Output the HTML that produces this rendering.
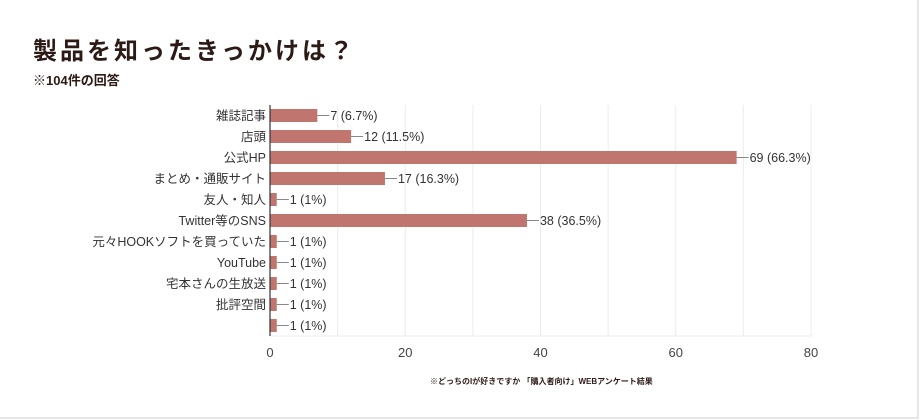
<!DOCTYPE html>
<html><head><meta charset="utf-8"><style>
html,body{margin:0;padding:0;background:#fff;}
#wrap{position:relative;width:920px;height:420px;overflow:hidden;font-family:"Liberation Sans","Noto Sans CJK JP",sans-serif;}
#frame{position:absolute;left:0;top:0;width:917px;height:417px;border-right:2px solid #e6e6e6;border-bottom:2px solid #e6e6e6;}
#title{position:absolute;left:33px;top:31px;font-size:24px;font-weight:bold;color:#2b1a16;letter-spacing:3px;margin:0;}
#sub{position:absolute;left:33px;top:70px;font-size:13px;font-weight:bold;color:#2b1a16;}
svg{position:absolute;left:0;top:0;}
</style></head><body>
<div id="wrap">
<div id="frame"></div>
<h1 id="title">製品を知ったきっかけは？</h1>
<div id="sub">※104件の回答</div>
<svg id="chart" width="920" height="420"></svg>
</div>
<script>
const categories=["雑誌記事","店頭","公式HP","まとめ・通販サイト","友人・知人","Twitter等のSNS","元々HOOKソフトを買っていた","YouTube","宅本さんの生放送","批評空間",""];
const values=[7,12,69,17,1,38,1,1,1,1,1];
const valueLabels=["7 (6.7%)","12 (11.5%)","69 (66.3%)","17 (16.3%)","1 (1%)","38 (36.5%)","1 (1%)","1 (1%)","1 (1%)","1 (1%)","1 (1%)"];
const ticks=[0,20,40,60,80];
const gridVals=[10,20,30,40,50,60,70,80];

const NS="http://www.w3.org/2000/svg";
const svg=document.getElementById('chart');
const x0=270,x1=811,xMax=80,plotTop=105,rowH=21,barH=13;
const plotBottom=plotTop+rowH*categories.length;
const xs=v=>x0+(x1-x0)*v/xMax;
const yc=i=>plotTop+rowH*i+rowH/2;
function mk(t,a){const e=document.createElementNS(NS,t);for(const k in a)e.setAttribute(k,a[k]);svg.appendChild(e);return e;}

gridVals.forEach(v=>{
  const g=mk('line',{x1:xs(v),x2:xs(v),y1:plotTop,y2:plotBottom,stroke:'#ececec','stroke-width':1});
  
  
});
const bl=mk('line',{x1:x0,x2:x1,y1:plotBottom,y2:plotBottom,stroke:'#ececec','stroke-width':1});



categories.forEach((c,i)=>{
  const y=yc(i),w=xs(values[i])-x0;
  const r=mk('rect',{x:x0,y:y-barH/2,width:w,height:barH,fill:'#c0756f'});
  
  
  const ex=xs(values[i]);
  const ln=mk('line',{x1:ex,x2:ex+12,y1:y,y2:y,stroke:'#888','stroke-width':1});
  
  
  const vt=mk('text',{x:ex+13,y:y+4.5,'font-size':12.5,fill:'#333'});
  vt.textContent=valueLabels[i];
  
  
  const ct=mk('text',{x:x0-4,y:y+4.5,'font-size':12.5,fill:'#333','text-anchor':'end'});
  ct.textContent=c;
  
  
});
const ax=mk('line',{x1:x0,x2:x0,y1:plotTop,y2:plotBottom,stroke:'#333','stroke-width':1.2});


ticks.forEach(t=>{
  const e=mk('text',{x:xs(t),y:plotBottom+21,'font-size':13,fill:'#444','text-anchor':'middle'});
  e.textContent=t;
  
  
});
const f=mk('text',{x:430,y:384,'font-size':8,'font-weight':'bold',fill:'#2b1a16'});
f.textContent='※どっちのIが好きですか 「購入者向け」WEBアンケート結果';


</script>
</body></html>
